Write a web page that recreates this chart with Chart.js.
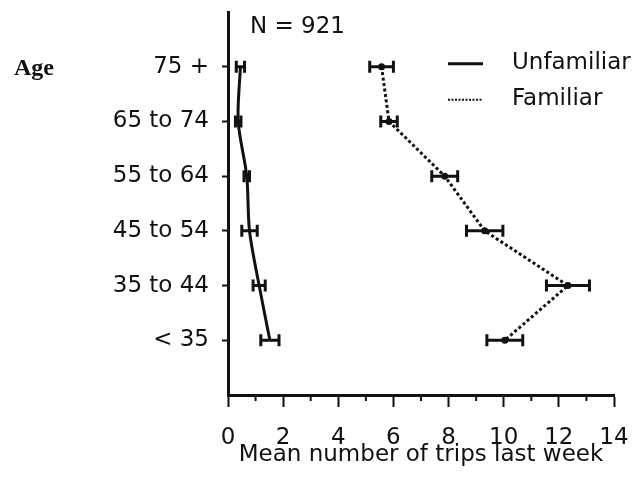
<!DOCTYPE html>
<html>
<head>
<meta charset="utf-8">
<script src="https://cdn.jsdelivr.net/npm/chart.js@4.4.1/dist/chart.umd.min.js"></script>
<style>
    html, body { margin: 0; padding: 0; background: #fff; }
    #wrap { width: 644px; height: 477px; }
</style>
</head>
<body>
<div id="wrap"><canvas id="tripsChart"></canvas></div>
<script>
// Age groups, top to bottom as printed
const ageGroups = ['75 +', '65 to 74', '55 to 64', '45 to 54', '35 to 44', '< 35'];

// Mean trips last week and error bar half widths
const unfamiliarMeans = [0.45, 0.37, 0.68, 0.78, 1.13, 1.52];
const unfamiliarErrors = [0.15, 0.10, 0.10, 0.28, 0.22, 0.33];
const familiarMeans = [5.57, 5.84, 7.86, 9.31, 12.33, 10.04];
const familiarErrors = [0.43, 0.30, 0.47, 0.66, 0.78, 0.65];

const xTicks = [0, 2, 4, 6, 8, 10, 12, 14];
const sampleNote = 'N = 921';
const rowTitle = 'Age';
const xTitle = 'Mean number of trips last week';

const ink = '#111';

// Row position of an age group (top row gets the highest value)
function rowOf(i) {
    return ageGroups.length - i;
}

function toPoints(means) {
    return means.map((m, i) => ({ x: m, y: rowOf(i) }));
}

// Horizontal error bars with end caps
const errorBars = {
    id: 'errorBars',
    afterDatasetsDraw(chart) {
        const { ctx, scales: { x, y } } = chart;
        ctx.save();
        ctx.strokeStyle = ink;
        ctx.lineWidth = 3;
        ctx.setLineDash([]);
        chart.data.datasets.forEach(ds => {
            ds.data.forEach((p, i) => {
                const err = ds.errors[i];
                const x1 = x.getPixelForValue(p.x - err);
                const x2 = x.getPixelForValue(p.x + err);
                const py = y.getPixelForValue(p.y);
                ctx.beginPath();
                ctx.moveTo(x1, py);
                ctx.lineTo(x2, py);
                ctx.moveTo(x1, py - 6);
                ctx.lineTo(x1, py + 6);
                ctx.moveTo(x2, py - 6);
                ctx.lineTo(x2, py + 6);
                ctx.stroke();
            });
        });
        ctx.restore();
    }
};

// Minor ticks, legend and the loose labels
const extras = {
    id: 'extras',
    afterDraw(chart) {
        const { ctx, chartArea, scales: { x, y } } = chart;
        ctx.save();

        // minor ticks half way between the labelled ones
        ctx.strokeStyle = ink;
        ctx.lineWidth = 2;
        for (let i = 0; i < xTicks.length - 1; i++) {
            const px = x.getPixelForValue((xTicks[i] + xTicks[i + 1]) / 2);
            ctx.beginPath();
            ctx.moveTo(px, chartArea.bottom);
            ctx.lineTo(px, chartArea.bottom + 6);
            ctx.stroke();
        }

        ctx.fillStyle = ink;
        ctx.textBaseline = 'alphabetic';
        ctx.textAlign = 'left';
        ctx.font = '23px "DejaVu Sans"';
        ctx.fillText(sampleNote, chartArea.left + 22, 33);

        ctx.font = 'bold 24px "Liberation Serif"';
        ctx.fillText(rowTitle, 14, y.getPixelForValue(rowOf(0)) + 8);

        // legend
        const lx = chartArea.left + 220;
        chart.data.datasets.forEach((ds, i) => {
            const ly = y.getPixelForValue(rowOf(0)) - 3 + i * 36;
            ctx.strokeStyle = ink;
            ctx.lineWidth = i === 0 ? 3 : 2;
            ctx.setLineDash(i === 0 ? [] : [2, 1.5]);
            ctx.beginPath();
            ctx.moveTo(lx, ly);
            ctx.lineTo(lx + 35, ly);
            ctx.stroke();
            ctx.setLineDash([]);
            ctx.font = '23px "DejaVu Sans"';
            ctx.textBaseline = 'middle';
            ctx.fillText(ds.label, lx + 64, ly - 1);
        });

        ctx.restore();
    }
};

Chart.defaults.font.family = '"DejaVu Sans"';
Chart.defaults.font.size = 23;
Chart.defaults.color = ink;

const chart = new Chart(document.getElementById('tripsChart'), {
    type: 'scatter',
    data: {
        datasets: [
            {
                label: 'Unfamiliar',
                data: toPoints(unfamiliarMeans),
                errors: unfamiliarErrors,
                showLine: true,
                borderColor: ink,
                backgroundColor: ink,
                borderWidth: 3,
                tension: 0.3,
                pointRadius: 0
            },
            {
                label: 'Familiar',
                data: toPoints(familiarMeans),
                errors: familiarErrors,
                showLine: true,
                borderColor: ink,
                backgroundColor: ink,
                borderWidth: 3,
                borderDash: [3, 2.5],
                tension: 0,
                pointRadius: 2
            }
        ]
    },
    options: {
        responsive: true,
        maintainAspectRatio: false,
        animation: false,
        layout: { padding: { top: 12, right: 30, bottom: 0, left: 0 } },
        plugins: {
            legend: { display: false },
            tooltip: { enabled: false }
        },
        scales: {
            x: {
                type: 'linear',
                min: xTicks[0],
                max: xTicks[xTicks.length - 1],
                afterBuildTicks: scale => {
                    scale.ticks = xTicks.map(v => ({ value: v }));
                },
                afterFit: scale => {
                    scale.height = 82;
                    scale.paddingLeft = 0;
                    scale.paddingRight = 0;
                },
                border: { display: true, color: ink, width: 3 },
                grid: { drawOnChartArea: false, drawTicks: true, tickLength: 12, tickWidth: 2, tickColor: ink },
                ticks: { padding: 17, color: ink },
                title: {
                    display: true,
                    text: xTitle,
                    color: ink,
                    font: { size: 23, lineHeight: 1.2 },
                    padding: { top: 0, bottom: 8 }
                }
            },
            y: {
                type: 'linear',
                min: 0,
                max: ageGroups.length + 1,
                afterBuildTicks: scale => {
                    scale.ticks = ageGroups.map((_, i) => ({ value: rowOf(i) }));
                },
                afterFit: scale => {
                    scale.width = 228;
                    scale.paddingTop = 0;
                    scale.paddingBottom = 0;
                },
                border: { display: true, color: ink, width: 3 },
                grid: { drawOnChartArea: false, drawTicks: true, tickLength: 6, tickWidth: 2, tickColor: ink },
                ticks: {
                    padding: 13,
                    color: ink,
                    callback: v => ageGroups[ageGroups.length - v]
                }
            }
        }
    },
    plugins: [errorBars, extras]
});
</script>
</body>
</html>
